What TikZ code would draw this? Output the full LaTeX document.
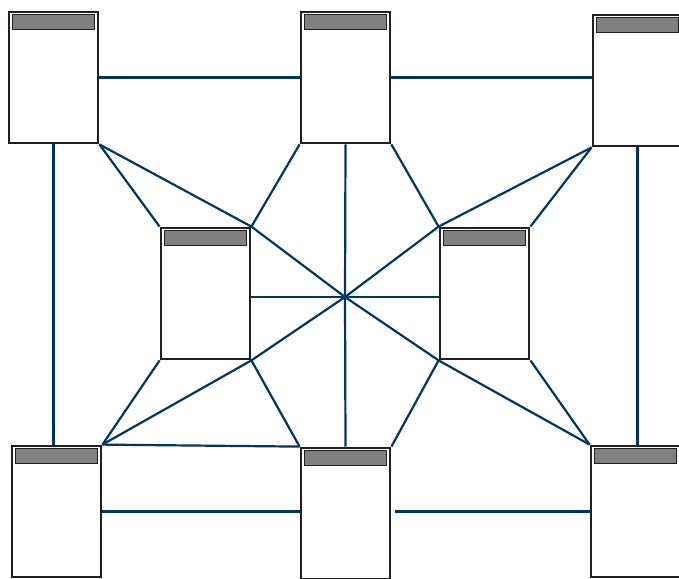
\documentclass[tikz,border=0pt]{standalone}
\usepackage{tikz}
\usetikzlibrary{positioning}
\definecolor{edgeblack}{RGB}{35,31,32}
\definecolor{hdrgray}{RGB}{128,128,128}
\definecolor{linkblue}{RGB}{0,54,99}

\begin{document}
\begin{tikzpicture}[x=1pt,y=-1pt,
box/.style={draw=edgeblack,fill=white,line width=2.8pt,minimum width=89pt,minimum height=131pt,inner sep=0pt},
hdr/.style={draw=edgeblack,fill=hdrgray,line width=0.9pt,minimum width=82pt,minimum height=15pt,inner sep=0pt},
link/.style={draw=linkblue,line width=2.2pt}]
\useasboundingbox (0,0) rectangle (679,578);
\clip (0,0) rectangle (679,578);
\node[box] (tl) at (53.5,77.5) {};
\node[box] (tm) at (345.5,77.5) {};
\node[box] (tr) at (637.5,80.5) {};
\node[box] (ml) at (205.5,293.5) {};
\node[box] (mr) at (484.5,293.5) {};
\node[box] (bl) at (56.5,511.5) {};
\node[box] (bm) at (345.5,513.5) {};
\node[box] (br) at (635.5,511.5) {};
\foreach \n in {tl,tm,tr,ml,mr,bl,bm,br}
  \node[hdr,below=3pt of \n.north] (\n-hdr) {};
\coordinate (hub) at (345,297);
\draw[link](tl.east)--(tm.west);
\draw[link](tm.east)--(tm.east -| tr.west);
\draw[link](bl.east)--(bl.east -| bm.west);
\draw[link,shorten <=4pt](br.west -| bm.east)--(br.west);
\draw[link](tl.south)--(tl.south |- bl.north);
\draw[link](tr.south)--(tr.south |- br.north);
\draw[link](tl.south east)--(ml.north west);
\draw[link](tl.south east)--(ml.north east);
\draw[link](tm.south west)--(ml.north east);
\draw[link](tm.south east)--(mr.north west);
\draw[link](tr.south west)--(mr.north west);
\draw[link](tr.south west)--(mr.north east);
\draw[link](ml.south west)--(bl.north east);
\draw[link](ml.south east)--(bl.north east);
\draw[link](ml.south east)--(bm.north west);
\draw[link](mr.south west)--(bm.north east);
\draw[link](mr.south west)--(br.north west);
\draw[link](mr.south east)--(br.north west);
\draw[link](bl.north east)--(bm.north west);
\draw[link](hub)--(ml.north east);
\draw[link](hub)--(mr.north west);
\draw[link](hub)--(ml.south east);
\draw[link](hub)--(mr.south west);
\draw[link](hub)--(hub -| ml.east);
\draw[link](hub)--(hub -| mr.west);
\draw[link](hub)--(tm.south);
\draw[link](hub)--(bm.north);
\end{tikzpicture}
\end{document}
